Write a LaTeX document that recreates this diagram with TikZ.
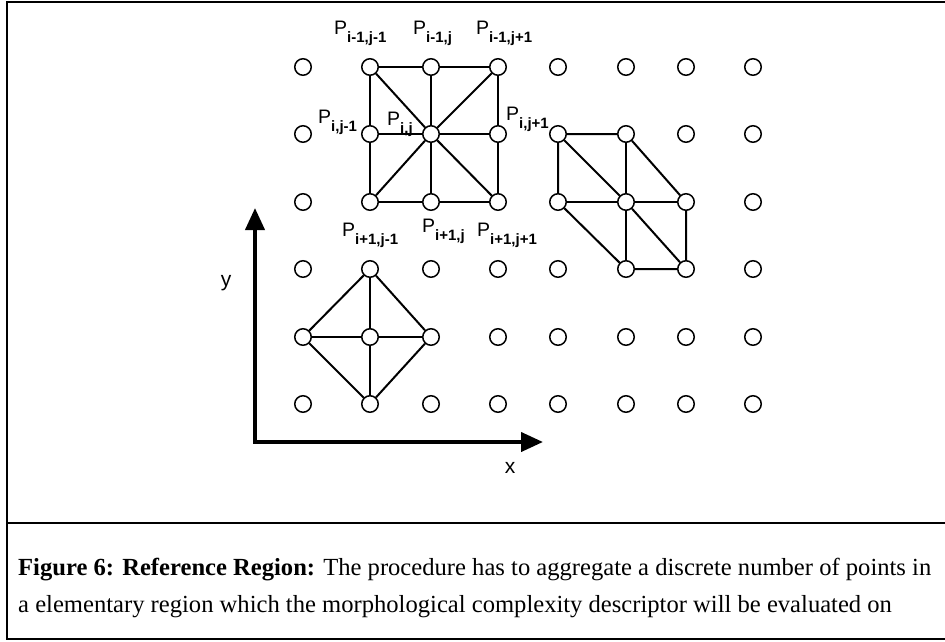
\documentclass[tikz,border=0pt]{standalone}
\usepackage{fontspec}
\setmainfont{Liberation Sans}
\newfontfamily\capfont{Liberation Serif}
\usetikzlibrary{arrows.meta}
\tikzset{
  gridpt/.style={circle,draw=black,line width=1.5pt,fill=white,
                 minimum size=16.5pt,inner sep=0pt},
  link/.style={line width=2pt,black},
  axisarr/.style={{Triangle[length=22pt,width=19pt]}-{Triangle[length=22pt,width=19pt]},
                  line width=4pt,line join=miter},
  plabel/.style={anchor=base west,inner sep=0pt,font=\fontsize{19.5}{22}\selectfont},
  axlabel/.style={inner sep=0pt,font=\fontsize{21}{23}\selectfont},
  capline/.style={anchor=base west,inner sep=0pt,font=\capfont\fontsize{24.6}{29}\selectfont},
  framelin/.style={line width=1.5pt}
}
\newcommand{\Pidx}[1]{P\raisebox{-8pt}{\fontsize{15}{16}\selectfont\bfseries #1}}

\begin{document}
\begin{tikzpicture}[x=1pt,y=-1pt]
  \useasboundingbox (0,0) rectangle (945,642);
  % frame
  \draw[framelin] (946,2) -- (7,2) -- (7,639) -- (946,639);
  \draw[framelin] (7,523) -- (946,523);

  % grid of points
  \foreach \x [count=\c] in {303,370,431,498,558,626,686,753}
    \foreach \y [count=\r] in {67,134,202,269,337,404}
      \node[gridpt] (g\r\c) at (\x,\y) {};

  % block around P_{i,j}
  \draw[link] (g12) -- (g13) -- (g14) -- (g24) -- (g34) -- (g33) -- (g32) -- (g22) -- (g12);
  \foreach \n in {g12,g13,g14,g22,g24,g32,g33,g34}
    \draw[link] (g23) -- (\n);

  % skewed block
  \draw[link] (g25) -- (g26) -- (g37) -- (g47) -- (g46) -- (g35) -- (g25);
  \draw[link] (g25) -- (g36) -- (g47);
  \draw[link] (g26) -- (g36) -- (g46);
  \draw[link] (g35) -- (g36) -- (g37);

  % diamond block
  \draw[link] (g42) -- (g53) -- (g62) -- (g51) -- (g42);
  \draw[link] (g42) -- (g52) -- (g62);
  \draw[link] (g51) -- (g52) -- (g53);

  % labels
  \node[plabel] (lA) at (334,35) {\Pidx{i-1,j-1}};
  \node[plabel] (lB) at (413,35) {\Pidx{i-1,j}};
  \node[plabel] (lC) at (476,35) {\Pidx{i-1,j+1}};
  \node[plabel] (lD) at (318,123) {\Pidx{i,j-1}};
  \node[plabel] (lE) at (387,125) {\Pidx{i,j}};
  \node[plabel] (lF) at (506,120) {\Pidx{i,j+1}};
  \node[plabel] (lG) at (342,236) {\Pidx{i+1,j-1}};
  \node[plabel] (lH) at (422,232) {\Pidx{i+1,j}};
  \node[plabel] (lI) at (477,236) {\Pidx{i+1,j+1}};

  % axes
  \coordinate (orig) at (255,442);
  \coordinate (ytip) at (255,208);
  \coordinate (xtip) at (543,442);
  \draw[axisarr] (ytip) -- (orig) -- (xtip);
  \node[axlabel] (ylab) at (226,283) {y};
  \node[axlabel] (xlab) at (510,468) {x};

  % caption
  \node[capline] (cap1) at (18,575) {{\bfseries Figure 6: Reference Region:} The procedure has to aggregate a discrete number of points in};
  \node[capline] (cap2) at (18,612) {a elementary region which the morphological complexity descriptor will be evaluated on};
\end{tikzpicture}
\end{document}
